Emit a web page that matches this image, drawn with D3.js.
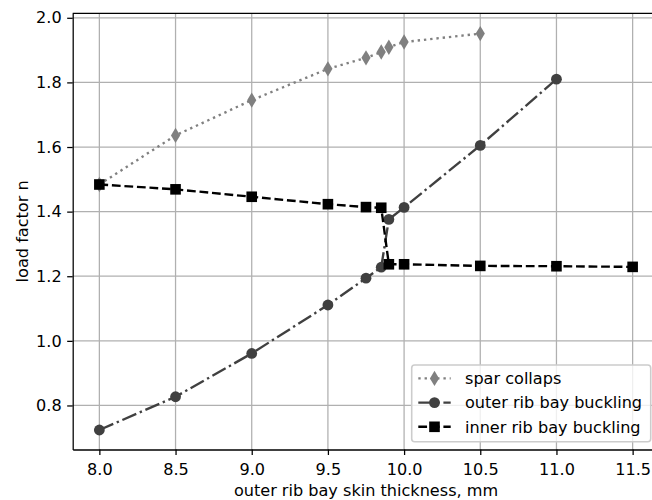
<!DOCTYPE html>
<html lang="en">
<head>
<meta charset="utf-8">
<script src="https://d3js.org/d3.v7.min.js"></script>
<style type="text/css">
body {
    margin: 0;
    background: white;
}
#chart {
    width: 652px;
    height: 500px;
    overflow: hidden;
}
text {
    font-family: "DejaVu Sans", sans-serif;
}
</style>
</head>
<body>
<div id="chart"></div>
<script type="text/javascript">

// skin thickness values (mm) and load factors
var sparX = [8.0, 8.5, 9.0, 9.5, 9.75, 9.85, 9.9, 10.0, 10.5];
var sparY = [1.484, 1.636, 1.745, 1.842, 1.876, 1.894, 1.909, 1.925, 1.951];

var outerX = [8.0, 8.5, 9.0, 9.5, 9.75, 9.85, 9.9, 10.0, 10.5, 11.0];
var outerY = [0.724, 0.827, 0.961, 1.111, 1.194, 1.228, 1.376, 1.413, 1.605, 1.810];

var innerX = [8.0, 8.5, 9.0, 9.5, 9.75, 9.85, 9.9, 10.0, 10.5, 11.0, 11.5];
var innerY = [1.484, 1.469, 1.446, 1.423, 1.414, 1.412, 1.237, 1.237, 1.232, 1.231, 1.229];

var xTicks = [8.0, 8.5, 9.0, 9.5, 10.0, 10.5, 11.0, 11.5];
var yTicks = [0.8, 1.0, 1.2, 1.4, 1.6, 1.8, 2.0];

var seriesNames = ["spar collaps", "outer rib bay buckling", "inner rib bay buckling"];

var width = 652;
var height = 500;
var margin = {left: 72.7, top: 13.3, right: -7.3, bottom: 50.5};
var fontSize = 16.1;
var px = 1.579;   // pixels per point

var x = d3.scaleLinear().domain([7.825, 11.675]).range([margin.left, width - margin.right]);
var y = d3.scaleLinear().domain([0.6637, 2.0139]).range([height - margin.bottom, margin.top]);

var svg = d3.select("#chart")
            .append("svg")
            .attr("width", width)
            .attr("height", height);

// grid lines
svg.append("g").selectAll("line")
    .data(xTicks).enter().append("line")
    .attr("x1", function(d) { return x(d); })
    .attr("x2", function(d) { return x(d); })
    .attr("y1", y.range()[0]).attr("y2", y.range()[1])
    .attr("stroke", "#b0b0b0").attr("stroke-width", 0.8 * px);

svg.append("g").selectAll("line")
    .data(yTicks).enter().append("line")
    .attr("y1", function(d) { return y(d); })
    .attr("y2", function(d) { return y(d); })
    .attr("x1", x.range()[0]).attr("x2", x.range()[1])
    .attr("stroke", "#b0b0b0").attr("stroke-width", 0.8 * px);

// axes
var xAxis = svg.append("g")
    .attr("transform", "translate(0," + (height - margin.bottom) + ")")
    .call(d3.axisBottom(x).tickValues(xTicks).tickFormat(d3.format(".1f")).tickSizeInner(3.5 * px).tickSizeOuter(0).tickPadding(8.1));

var yAxis = svg.append("g")
    .attr("transform", "translate(" + margin.left + ",0)")
    .call(d3.axisLeft(y).tickValues(yTicks).tickFormat(d3.format(".1f")).tickSizeInner(3.5 * px).tickSizeOuter(0).tickPadding(5.5));

[xAxis, yAxis].forEach(function(a) {
    a.selectAll("path").attr("stroke", "black").attr("stroke-width", 0.8 * px);
    a.selectAll("line").attr("stroke", "black").attr("stroke-width", 0.8 * px);
    a.selectAll("text").attr("font-size", fontSize).attr("font-family", "DejaVu Sans").attr("fill", "black");
});

// top spine
svg.append("line")
    .attr("x1", x.range()[0]).attr("x2", x.range()[1])
    .attr("y1", margin.top).attr("y2", margin.top)
    .attr("stroke", "black").attr("stroke-width", 0.8 * px);

// axis labels
svg.append("text")
    .attr("x", (x.range()[0] + x.range()[1]) / 2)
    .attr("y", 496)
    .attr("text-anchor", "middle")
    .attr("font-size", fontSize)
    .text("outer rib bay skin thickness, mm");

svg.append("text")
    .attr("transform", "translate(27.5," + ((y.range()[0] + y.range()[1]) / 2) + ") rotate(-90)")
    .attr("text-anchor", "middle")
    .attr("font-size", fontSize)
    .text("load factor n");

var line = d3.line()
    .x(function(d) { return x(d[0]); })
    .y(function(d) { return y(d[1]); });

var lw = 1.5 * px;
var styles = [
    {color: "#808080", dash: [1.5, 2.475], marker: "diamond"},
    {color: "#404040", dash: [9.6, 2.4, 1.5, 2.4], marker: "circle"},
    {color: "#000000", dash: [5.55, 2.4], marker: "square"}
];

function dashString(arr) {
    return arr.map(function(v) { return (v * px).toFixed(2); }).join(",");
}

function drawMarker(g, kind, color, cx, cy) {
    if (kind == "circle") {
        g.append("circle").attr("cx", cx).attr("cy", cy).attr("r", 5.4).attr("fill", color);
    } else if (kind == "square") {
        g.append("rect").attr("x", cx - 5.3).attr("y", cy - 5.3).attr("width", 10.6).attr("height", 10.6).attr("fill", color);
    } else {
        g.append("path")
            .attr("d", "M" + cx + "," + (cy - 7.7) + "L" + (cx + 4.6) + "," + cy + "L" + cx + "," + (cy + 7.7) + "L" + (cx - 4.6) + "," + cy + "Z")
            .attr("fill", color);
    }
}

var allSeries = [
    d3.zip(sparX, sparY),
    d3.zip(outerX, outerY),
    d3.zip(innerX, innerY)
];

allSeries.forEach(function(data, i) {
    var st = styles[i];
    var g = svg.append("g");
    g.append("path")
        .datum(data)
        .attr("d", line)
        .attr("fill", "none")
        .attr("stroke", st.color)
        .attr("stroke-width", lw)
        .attr("stroke-dasharray", dashString(st.dash));
    data.forEach(function(d) {
        drawMarker(g, st.marker, st.color, x(d[0]), y(d[1]));
    });
});

// legend
var legend = svg.append("g");
legend.append("rect")
    .attr("x", 411.7).attr("y", 365)
    .attr("width", 239).attr("height", 76.7)
    .attr("rx", 3).attr("ry", 3)
    .attr("fill", "white").attr("fill-opacity", 0.8)
    .attr("stroke", "#cccccc").attr("stroke-width", 1.0 * px);

seriesNames.forEach(function(name, i) {
    var st = styles[i];
    var cy = 378.4 + i * 24.2;
    legend.append("line")
        .attr("x1", 418.3).attr("x2", 450.7)
        .attr("y1", cy).attr("y2", cy)
        .attr("stroke", st.color)
        .attr("stroke-width", lw)
        .attr("stroke-dasharray", dashString(st.dash));
    drawMarker(legend, st.marker, st.color, 434.5, cy);
    legend.append("text")
        .attr("x", 465)
        .attr("y", cy + 5.7)
        .attr("font-size", fontSize)
        .text(name);
});

</script>
</body>
</html>
